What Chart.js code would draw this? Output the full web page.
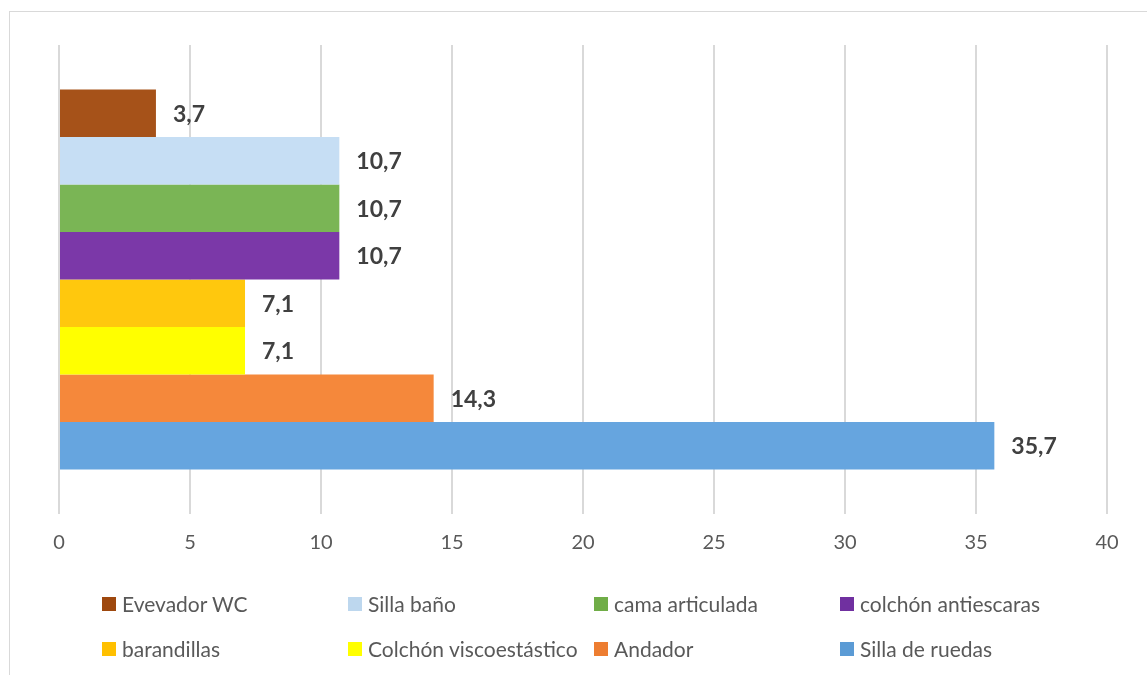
<!DOCTYPE html>
<html>
<head>
<meta charset="utf-8">
<script src="https://cdn.jsdelivr.net/npm/chart.js@4"></script>
<style>
  html, body { margin: 0; padding: 0; background: #fff; }
  #wrap { position: relative; width: 1147px; height: 675px; overflow: hidden; }
  #frame { position: absolute; left: 9px; top: 11px; width: 1200px; height: 700px; border: 1px solid #d9d9d9; box-sizing: border-box; }
  #c { position: absolute; left: 0; top: 0; }
  .lg { position: absolute; font-family: Lato, sans-serif; font-size: 21px; color: #595959; white-space: nowrap; line-height: 21px; height: 21px; }
  .lg .box { position: absolute; left: 0; top: 4px; width: 14px; height: 14px; }
  .lg .txt { position: absolute; left: 20px; top: 0; }
</style>
</head>
<body>
<div id="wrap">
  <div id="frame"></div>
  <canvas id="c" width="1147" height="675"></canvas>
  <div id="legend"></div>
</div>
<script>
const categories = [''];
const seriesLabels = ['Evevador WC', 'Silla baño', 'cama articulada', 'colchón antiescaras',
                      'barandillas', 'Colchón viscoestástico', 'Andador', 'Silla de ruedas'];
const seriesValues = [3.7, 10.7, 10.7, 10.7, 7.1, 7.1, 14.3, 35.7];
const seriesColors = ['#A65219', '#C6DEF4', '#7AB555', '#7B38A8', '#FFC80D', '#FFFF00', '#F5883B', '#66A5DF'];
const legendColors = ['#9E480E', '#BDD7EE', '#70AD47', '#7030A0', '#FFC000', '#FFFF00', '#ED7D31', '#5B9BD5'];
const xMin = 0, xMax = 40, xStep = 5;

const datasets = seriesLabels.map((lab, i) => ({
  label: lab,
  data: [seriesValues[i]],
  backgroundColor: seriesColors[i],
  borderWidth: 0,
  categoryPercentage: 0.81,
  barPercentage: 1.0
}));

const valueLabels = {
  id: 'valueLabels',
  afterDatasetsDraw(chart) {
    const ctx = chart.ctx;
    ctx.save();
    ctx.font = 'bold 23px Lato, sans-serif';
    ctx.fillStyle = '#404040';
    ctx.textAlign = 'left';
    ctx.textBaseline = 'middle';
    chart.data.datasets.forEach((ds, i) => {
      const meta = chart.getDatasetMeta(i);
      meta.data.forEach((el, j) => {
        const v = ds.data[j];
        const txt = v.toFixed(1).replace('.', ',');
        ctx.fillText(txt, el.x + 17, el.y + 1);
      });
    });
    ctx.restore();
  }
};

new Chart(document.getElementById('c'), {
  type: 'bar',
  data: { labels: categories, datasets },
  options: {
    indexAxis: 'y',
    responsive: false,
    animation: false,
    layout: { padding: { left: 59, right: 40, top: 45, bottom: 103 } },
    plugins: { legend: { display: false }, tooltip: { enabled: false } },
    scales: {
      y: { display: false },
      x: {
        min: xMin, max: xMax,
        border: { display: false },
        grid: { color: '#d9d9d9', lineWidth: 2, drawTicks: false },
        ticks: {
          stepSize: xStep,
          padding: 17,
          color: '#595959',
          font: { family: 'Lato, sans-serif', size: 20 }
        }
      }
    }
  },
  plugins: [valueLabels]
});

// HTML legend (4 columns x 2 rows)
const legendCols = [102, 348, 594, 840];
const legendRows = [593, 638];
const legendEl = document.getElementById('legend');
seriesLabels.forEach((lab, i) => {
  const d = document.createElement('div');
  d.className = 'lg';
  d.style.left = legendCols[i % 4] + 'px';
  d.style.top = legendRows[Math.floor(i / 4)] + 'px';
  const b = document.createElement('span');
  b.className = 'box';
  b.style.background = legendColors[i];
  const t = document.createElement('span');
  t.className = 'txt';
  t.textContent = lab;
  d.appendChild(b); d.appendChild(t);
  legendEl.appendChild(d);
});
</script>
</body>
</html>
